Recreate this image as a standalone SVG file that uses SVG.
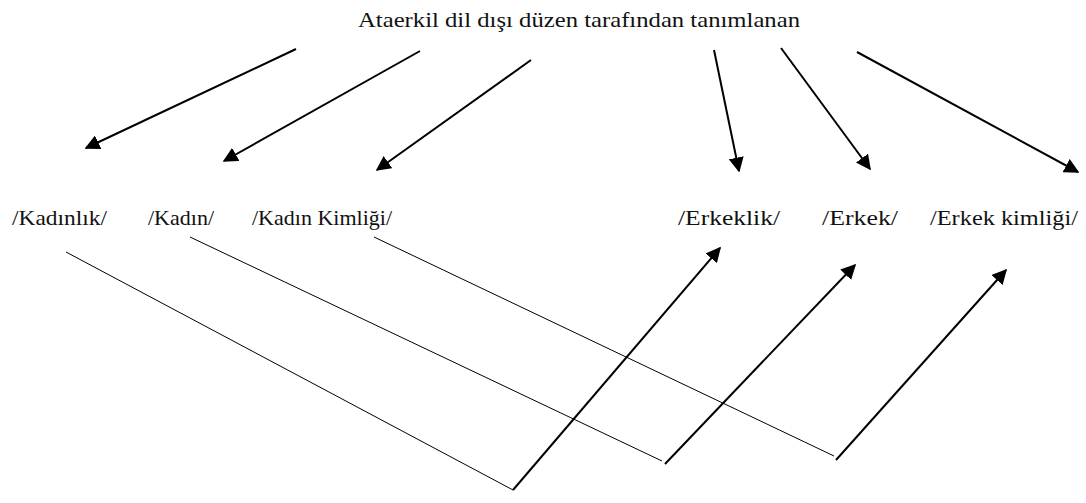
<svg xmlns="http://www.w3.org/2000/svg" width="1086" height="503" viewBox="0 0 1086 503">
<style>
text{font-family:"Liberation Serif","DejaVu Serif",serif;font-size:21px;fill:#111}
.thick{stroke:#000;stroke-width:2;fill:none}
.thin{stroke:#000;stroke-width:1;fill:none}
</style>
<defs>
<marker id="ah" viewBox="0 0 10 10" refX="9" refY="5" markerWidth="7.5" markerHeight="7.5" markerUnits="strokeWidth" orient="auto">
<path d="M0,0 L10,5 L0,10 Z" fill="#000"/>
</marker>
</defs>
<rect width="1086" height="503" fill="#fff"/>
<g id="title"><text x="358" y="27" textLength="442" lengthAdjust="spacingAndGlyphs">Ataerkil dil dışı düzen tarafından tanımlanan</text></g>
<g id="kadinlik"><text x="12" y="225" textLength="95" lengthAdjust="spacingAndGlyphs">/Kadınlık/</text></g>
<g id="kadin"><text x="148" y="225" textLength="66" lengthAdjust="spacingAndGlyphs">/Kadın/</text></g>
<g id="kadin-kimligi"><text x="252" y="225" textLength="140" lengthAdjust="spacingAndGlyphs">/Kadın Kimliği/</text></g>
<g id="erkeklik"><text x="678" y="225" textLength="102" lengthAdjust="spacingAndGlyphs">/Erkeklik/</text></g>
<g id="erkek"><text x="822" y="225" textLength="76" lengthAdjust="spacingAndGlyphs">/Erkek/</text></g>
<g id="erkek-kimligi"><text x="930" y="225" textLength="148" lengthAdjust="spacingAndGlyphs">/Erkek kimliği/</text></g>
<g id="connectors">
<line class="thick" x1="296" y1="49" x2="86" y2="148" marker-end="url(#ah)"/>
<line class="thick" x1="420" y1="51" x2="224" y2="161" marker-end="url(#ah)"/>
<line class="thick" x1="531" y1="60" x2="377" y2="170" marker-end="url(#ah)"/>
<line class="thick" x1="714" y1="50" x2="739" y2="171" marker-end="url(#ah)"/>
<line class="thick" x1="781" y1="48" x2="870" y2="169" marker-end="url(#ah)"/>
<line class="thick" x1="857" y1="52" x2="1078" y2="172" marker-end="url(#ah)"/>
<line class="thin" x1="66" y1="252" x2="513" y2="490"/>
<line class="thin" x1="190" y1="237" x2="662" y2="461"/>
<line class="thin" x1="374" y1="237" x2="834" y2="456"/>
<line class="thick" x1="513" y1="490" x2="720" y2="248" marker-end="url(#ah)"/>
<line class="thick" x1="665" y1="464" x2="855" y2="265" marker-end="url(#ah)"/>
<line class="thick" x1="836" y1="460" x2="1006" y2="270" marker-end="url(#ah)"/>
</g>
</svg>
